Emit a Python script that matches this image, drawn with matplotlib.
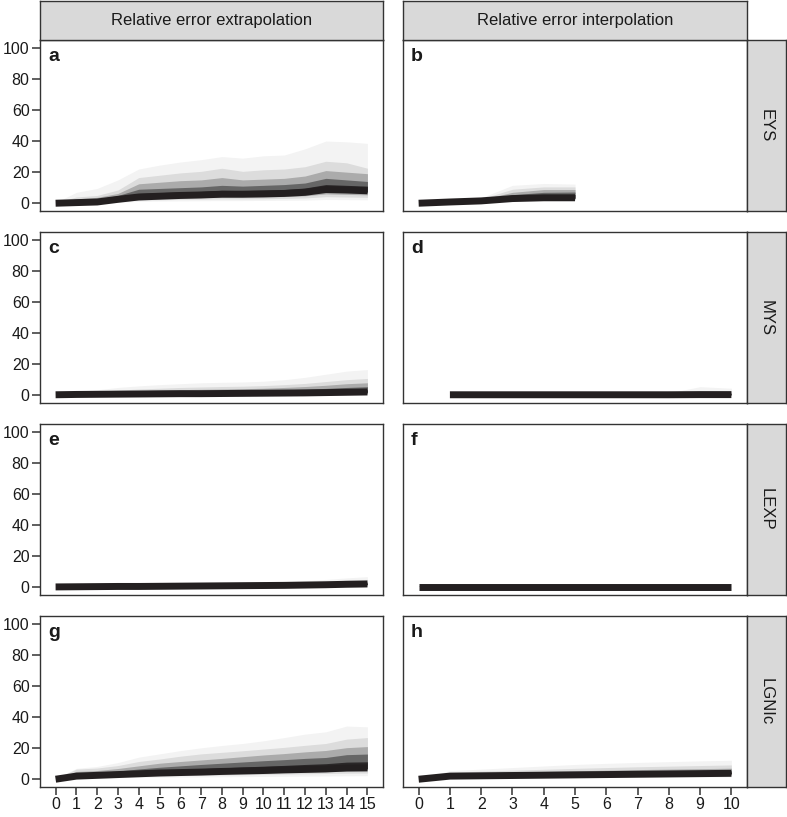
import matplotlib.pyplot as plt

plt.rcParams['font.family'] = ['Liberation Sans', 'DejaVu Sans']

W, H = 787, 817

# column / row labels
col_titles = ['Relative error extrapolation', 'Relative error interpolation']
row_titles = ['EYS', 'MYS', 'LEXP', 'LGNIc']
letters = ['a', 'b', 'c', 'd', 'e', 'f', 'g', 'h']

x_extra = list(range(0, 16))
x_inter = list(range(0, 11))

# quantile bands: *_hi / *_lo rows go outer -> inner, *_med is the median
# EYS, extrapolation
a_x = x_extra
a_med = [0, 0.4, 0.8, 2.5, 4, 4.5, 5, 5.3, 5.8, 5.8, 6, 6.3, 7, 8.8, 8.5, 8]
a_hi = [[0.5, 7, 9.5, 15, 22, 24.5, 26.5, 28, 30, 29, 30.5, 31, 35, 40, 39.5, 38.5],
        [0.5, 4, 5, 8.5, 16.5, 18, 19.5, 20.5, 22.5, 20.5, 21.5, 22, 23.5, 27, 26, 22.5],
        [0.4, 2.8, 3.8, 6.3, 12.5, 13.5, 14.5, 15, 16.5, 15, 15.5, 16, 17.5, 21, 20, 19],
        [0.3, 1.8, 2.6, 5, 9, 9.5, 10, 10.5, 11.5, 11, 11.5, 12, 13, 16, 15, 14],
        [0.1, 1, 1.6, 3.6, 6.3, 6.8, 7.3, 7.6, 8.3, 8.1, 8.4, 8.8, 9.8, 12, 11.5, 11]]
a_lo = [[0, 0, 0, 0.5, 1.2, 1.4, 1.5, 1.6, 1.7, 1.7, 1.8, 1.9, 2, 2.4, 2.3, 2.2],
        [0, 0.1, 0.2, 1, 2, 2.2, 2.5, 2.6, 2.8, 2.8, 2.9, 3.1, 3.4, 4.2, 4, 3.8],
        [0, 0.2, 0.4, 1.5, 2.7, 3, 3.4, 3.6, 3.9, 3.9, 4, 4.3, 4.8, 6, 5.7, 5.4],
        [0, 0.3, 0.6, 2, 3.3, 3.7, 4.2, 4.4, 4.8, 4.8, 5, 5.2, 5.9, 7.3, 7, 6.6],
        [0, 0.4, 0.7, 2.3, 3.7, 4.2, 4.6, 4.9, 5.4, 5.4, 5.5, 5.8, 6.5, 8.1, 7.8, 7.3]]

# EYS, interpolation
b_x = [0, 1, 2, 3, 4, 5]
b_med = [0, 0.8, 1.5, 3, 3.5, 3.5]
b_hi = [[0.2, 1.2, 3.5, 11.5, 12.7, 12.3],
        [0.2, 1.1, 2.8, 9, 10.5, 10.5],
        [0.1, 1, 2.4, 7, 8.8, 8.8],
        [0.1, 0.9, 2, 5.5, 7, 7.2],
        [0.05, 0.85, 1.8, 4.3, 5.5, 5.6]]
b_lo = [[0, 0.3, 0.6, 1.5, 1.8, 1.8],
        [0, 0.4, 0.8, 1.9, 2.2, 2.2],
        [0, 0.5, 1, 2.3, 2.6, 2.7],
        [0, 0.6, 1.2, 2.6, 3, 3],
        [0, 0.7, 1.4, 2.8, 3.3, 3.3]]

# MYS, extrapolation
c_x = x_extra
c_med = [0.3, 0.5, 0.6, 0.7, 0.8, 0.9, 1, 1, 1.1, 1.2, 1.3, 1.4, 1.5, 1.7, 1.9, 2.1]
c_hi = [[1, 2.5, 3.5, 5, 6, 6.8, 7.4, 8, 8.3, 8.5, 9, 10, 11.5, 13.5, 15.5, 16.5],
        [0.8, 1.8, 2.5, 3.3, 4, 4.5, 5, 5.3, 5.6, 5.8, 6.2, 6.8, 7.6, 8.8, 10, 10.8],
        [0.6, 1.3, 1.8, 2.4, 2.9, 3.3, 3.6, 3.8, 4, 4.2, 4.5, 5, 5.6, 6.4, 7.4, 8],
        [0.5, 1, 1.3, 1.7, 2, 2.3, 2.5, 2.6, 2.8, 3, 3.2, 3.5, 3.9, 4.4, 5, 5.5],
        [0.4, 0.7, 0.9, 1.1, 1.3, 1.5, 1.6, 1.7, 1.8, 1.9, 2.1, 2.3, 2.5, 2.8, 3.2, 3.5]]
c_lo = [[0, 0.1, 0.1, 0.1, 0.1, 0.1, 0.1, 0.1, 0.1, 0.1, 0.1, 0.1, 0.2, 0.2, 0.2, 0.2],
        [0.1, 0.2, 0.2, 0.2, 0.3, 0.3, 0.3, 0.3, 0.3, 0.4, 0.4, 0.4, 0.5, 0.5, 0.6, 0.6],
        [0.2, 0.3, 0.3, 0.4, 0.4, 0.5, 0.5, 0.5, 0.6, 0.6, 0.7, 0.7, 0.8, 0.9, 1, 1.1],
        [0.2, 0.4, 0.4, 0.5, 0.6, 0.6, 0.7, 0.7, 0.8, 0.8, 0.9, 1, 1.1, 1.2, 1.4, 1.5],
        [0.3, 0.4, 0.5, 0.6, 0.7, 0.8, 0.9, 0.9, 1, 1.1, 1.2, 1.3, 1.4, 1.5, 1.7, 1.9]]

# MYS, interpolation
d_x = [1, 2, 3, 4, 5, 6, 7, 8, 9, 10]
d_med = [0.3, 0.3, 0.3, 0.3, 0.3, 0.3, 0.3, 0.3, 0.4, 0.4]
d_hi = [[0.8, 0.9, 1, 1, 1, 1.1, 1.2, 1.5, 5.5, 4.5],
        [0.6, 0.7, 0.7, 0.8, 0.8, 0.8, 0.9, 1.1, 3, 3],
        [0.5, 0.5, 0.6, 0.6, 0.6, 0.6, 0.7, 0.8, 2, 2],
        [0.4, 0.4, 0.5, 0.5, 0.5, 0.5, 0.5, 0.6, 1.2, 1.2],
        [0.35, 0.35, 0.4, 0.4, 0.4, 0.4, 0.4, 0.5, 0.7, 0.7]]
d_lo = [[0, 0, 0, 0, 0, 0, 0, 0, 0.1, 0.1],
        [0.1, 0.1, 0.1, 0.1, 0.1, 0.1, 0.1, 0.1, 0.2, 0.2],
        [0.15, 0.15, 0.15, 0.15, 0.15, 0.15, 0.15, 0.15, 0.25, 0.25],
        [0.2, 0.2, 0.2, 0.2, 0.2, 0.2, 0.2, 0.2, 0.3, 0.3],
        [0.25, 0.25, 0.25, 0.25, 0.25, 0.25, 0.25, 0.25, 0.35, 0.35]]

# LEXP, extrapolation
e_x = x_extra
e_med = [0.2, 0.3, 0.4, 0.5, 0.5, 0.6, 0.7, 0.8, 0.9, 1, 1.1, 1.2, 1.4, 1.6, 1.9, 2.1]
e_hi = [[0.5, 0.7, 0.9, 1.1, 1.3, 1.5, 1.7, 1.9, 2.1, 2.5, 3, 3.5, 4.2, 5, 6, 6.8],
        [0.4, 0.6, 0.7, 0.9, 1, 1.2, 1.4, 1.5, 1.7, 2, 2.3, 2.7, 3.2, 3.8, 4.5, 5],
        [0.35, 0.5, 0.6, 0.7, 0.8, 1, 1.1, 1.2, 1.4, 1.6, 1.8, 2.1, 2.5, 2.9, 3.4, 3.8],
        [0.3, 0.4, 0.5, 0.6, 0.7, 0.8, 0.9, 1, 1.2, 1.3, 1.5, 1.7, 2, 2.3, 2.7, 3],
        [0.25, 0.35, 0.45, 0.55, 0.6, 0.7, 0.8, 0.9, 1, 1.1, 1.3, 1.4, 1.7, 1.9, 2.3, 2.5]]
e_lo = [[0, 0, 0.1, 0.1, 0.1, 0.1, 0.1, 0.2, 0.2, 0.2, 0.2, 0.3, 0.3, 0.4, 0.5, 0.5],
        [0.05, 0.1, 0.15, 0.2, 0.2, 0.25, 0.3, 0.35, 0.4, 0.4, 0.5, 0.5, 0.6, 0.7, 0.9, 1],
        [0.1, 0.15, 0.2, 0.3, 0.3, 0.35, 0.4, 0.5, 0.55, 0.6, 0.7, 0.75, 0.9, 1, 1.2, 1.4],
        [0.15, 0.2, 0.3, 0.35, 0.4, 0.45, 0.5, 0.6, 0.7, 0.75, 0.85, 0.9, 1.1, 1.3, 1.5, 1.7],
        [0.18, 0.25, 0.35, 0.45, 0.45, 0.55, 0.6, 0.7, 0.8, 0.9, 1, 1.1, 1.3, 1.5, 1.7, 1.9]]

# LEXP, interpolation
f_x = x_inter
f_med = [0.2, 0.2, 0.2, 0.2, 0.2, 0.2, 0.2, 0.2, 0.2, 0.2, 0.2]
f_hi = [[0.6, 0.6, 0.6, 0.6, 0.6, 0.6, 0.6, 0.6, 0.6, 0.6, 0.6],
        [0.5, 0.5, 0.5, 0.5, 0.5, 0.5, 0.5, 0.5, 0.5, 0.5, 0.5],
        [0.4, 0.4, 0.4, 0.4, 0.4, 0.4, 0.4, 0.4, 0.4, 0.4, 0.4],
        [0.3, 0.3, 0.3, 0.3, 0.3, 0.3, 0.3, 0.3, 0.3, 0.3, 0.3],
        [0.25, 0.25, 0.25, 0.25, 0.25, 0.25, 0.25, 0.25, 0.25, 0.25, 0.25]]
f_lo = [[0, 0, 0, 0, 0, 0, 0, 0, 0, 0, 0],
        [0.05, 0.05, 0.05, 0.05, 0.05, 0.05, 0.05, 0.05, 0.05, 0.05, 0.05],
        [0.1, 0.1, 0.1, 0.1, 0.1, 0.1, 0.1, 0.1, 0.1, 0.1, 0.1],
        [0.12, 0.12, 0.12, 0.12, 0.12, 0.12, 0.12, 0.12, 0.12, 0.12, 0.12],
        [0.15, 0.15, 0.15, 0.15, 0.15, 0.15, 0.15, 0.15, 0.15, 0.15, 0.15]]

# LGNIc, extrapolation
g_x = x_extra
g_med = [0, 2, 2.5, 3, 3.5, 4, 4.3, 4.6, 5, 5.3, 5.6, 6, 6.3, 6.6, 7.2, 7.3]
g_hi = [[0.5, 7, 8.2, 10.7, 14.2, 16.3, 18.4, 20.2, 21.7, 23, 24.7, 26.8, 29, 30.5, 34.2, 33.7],
        [0.4, 6.5, 7.2, 8.8, 11.4, 13, 14.8, 16.3, 17.3, 18.3, 19.4, 20.5, 21.8, 23, 25.8, 26.8],
        [0.3, 5, 5.6, 6.9, 8.6, 10.3, 11.4, 12.4, 13.4, 14.5, 15.6, 16.5, 17.6, 18.5, 20.3, 21],
        [0.2, 3.8, 4.3, 5.3, 6.6, 7.7, 8.6, 9.5, 10.3, 11.1, 11.9, 12.6, 13.4, 14, 15.8, 16.2],
        [0.1, 2.8, 3.3, 4, 4.9, 5.6, 6.2, 6.8, 7.3, 7.9, 8.4, 8.9, 9.5, 10, 11, 11.2]]
g_lo = [[0, 0.6, 0.8, 1, 1.2, 1.3, 1.4, 1.5, 1.6, 1.7, 1.8, 1.9, 2, 2.1, 2.2, 2.3],
        [0, 1, 1.3, 1.6, 1.9, 2.1, 2.3, 2.5, 2.7, 2.9, 3.1, 3.3, 3.5, 3.7, 3.9, 4],
        [0, 1.3, 1.7, 2.1, 2.5, 2.8, 3.1, 3.3, 3.6, 3.9, 4.1, 4.4, 4.7, 4.9, 5.3, 5.4],
        [0, 1.6, 2, 2.5, 2.9, 3.3, 3.6, 3.9, 4.2, 4.5, 4.8, 5.2, 5.5, 5.8, 6.3, 6.4],
        [0, 1.8, 2.3, 2.8, 3.2, 3.7, 4, 4.3, 4.6, 4.9, 5.2, 5.6, 5.9, 6.2, 6.8, 6.9]]

# LGNIc, interpolation
h_x = x_inter
h_med = [0, 2, 2.2, 2.4, 2.6, 2.8, 3, 3.2, 3.4, 3.6, 3.8]
h_hi = [[0.3, 5.5, 6.5, 7.5, 8.5, 9.5, 10.2, 10.8, 11.3, 11.8, 12.2],
        [0.25, 4.5, 5.2, 5.8, 6.4, 7, 7.5, 8, 8.4, 8.8, 9.2],
        [0.2, 3.6, 4.1, 4.5, 5, 5.4, 5.8, 6.2, 6.5, 6.8, 7.1],
        [0.15, 3, 3.3, 3.6, 4, 4.3, 4.6, 4.9, 5.1, 5.4, 5.6],
        [0.1, 2.5, 2.8, 3, 3.3, 3.5, 3.8, 4, 4.2, 4.5, 4.7]]
h_lo = [[0, 0.8, 0.9, 1, 1.1, 1.1, 1.2, 1.3, 1.4, 1.4, 1.5],
        [0, 1.1, 1.2, 1.4, 1.5, 1.6, 1.7, 1.8, 1.9, 2, 2.1],
        [0, 1.4, 1.6, 1.7, 1.9, 2, 2.2, 2.3, 2.5, 2.6, 2.8],
        [0, 1.7, 1.9, 2, 2.2, 2.4, 2.6, 2.7, 2.9, 3.1, 3.3],
        [0, 1.9, 2.1, 2.2, 2.4, 2.6, 2.8, 3, 3.2, 3.4, 3.6]]

panels = [(a_x, a_med, a_hi, a_lo), (b_x, b_med, b_hi, b_lo),
          (c_x, c_med, c_hi, c_lo), (d_x, d_med, d_hi, d_lo),
          (e_x, e_med, e_hi, e_lo), (f_x, f_med, f_hi, f_lo),
          (g_x, g_med, g_hi, g_lo), (h_x, h_med, h_hi, h_lo)]

band_cols = ['#F3F3F3', '#DCDCDC', '#ABABAB', '#666666', '#2A2728']
med_col = '#231F20'
frame_col = '#333333'
strip_fill = '#D9D9D9'


def box(x0, y0, x1, y1):
    # pixel box -> figure fraction
    return [x0 / W, 1 - y1 / H, (x1 - x0) / W, (y1 - y0) / H]


fig = plt.figure(figsize=(W / 100, H / 100), dpi=100)

col_x = [(40, 383), (403, 747)]
row_top = [40, 232, 424, 616]
ph = 171

for i, (xs, med, hi, lo) in enumerate(panels):
    r, c = divmod(i, 2)
    x0, x1 = col_x[c]
    y0 = row_top[r]
    ax = fig.add_axes(box(x0, y0, x1, y0 + ph))
    for k in range(len(hi)):
        ax.fill_between(xs, lo[k], hi[k], color=band_cols[k], lw=0)
    ax.plot(xs, med, color=med_col, lw=5, solid_capstyle='butt')

    if c == 0:
        ax.set_xlim(-0.75, 15.75)
        ax.set_xticks(x_extra)
    else:
        ax.set_xlim(-0.5, 10.5)
        ax.set_xticks(x_inter)
    ax.set_ylim(-5, 105)
    ax.set_yticks([0, 20, 40, 60, 80, 100])
    ax.tick_params(length=5.5, width=1.1, color=frame_col, labelsize=11.5,
                   labelcolor='#1a1a1a', pad=2)
    if c == 1:
        ax.tick_params(axis='y', left=False, labelleft=False)
    if r < 3:
        ax.tick_params(axis='x', bottom=False, labelbottom=False)
    for s in ax.spines.values():
        s.set_color(frame_col)
        s.set_linewidth(1.0)

    ax.annotate(letters[i], xy=(0, 1), xycoords='axes fraction',
                xytext=(8, -8), textcoords='offset pixels',
                ha='left', va='top', fontsize=14, fontweight='bold',
                color='#1a1a1a')

    # right-hand row strip
    if c == 1:
        sax = fig.add_axes(box(747, y0, 786, y0 + ph))
        sax.set_facecolor(strip_fill)
        sax.set_xticks([])
        sax.set_yticks([])
        for s in sax.spines.values():
            s.set_color(frame_col)
            s.set_linewidth(1.0)
        sax.text(0.5, 0.5, row_titles[r], rotation=-90, ha='center',
                 va='center', fontsize=12, color='#1a1a1a',
                 transform=sax.transAxes)

# top column strips
for c, (x0, x1) in enumerate(col_x):
    sax = fig.add_axes(box(x0, 1, x1, 40))
    sax.set_facecolor(strip_fill)
    sax.set_xticks([])
    sax.set_yticks([])
    for s in sax.spines.values():
        s.set_color(frame_col)
        s.set_linewidth(1.0)
    sax.text(0.5, 0.5, col_titles[c], ha='center', va='center', fontsize=12,
             color='#1a1a1a', transform=sax.transAxes)

fig.savefig('out.png', dpi=100)
